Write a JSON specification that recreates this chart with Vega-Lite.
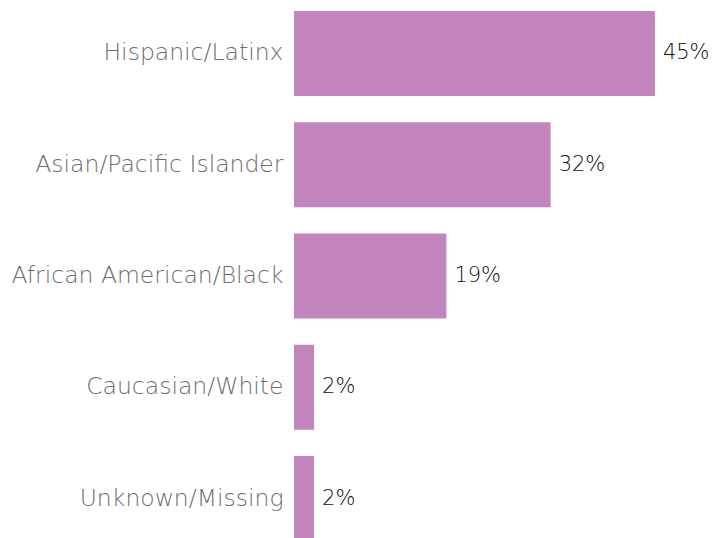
{
  "$schema": "https://vega.github.io/schema/vega-lite/v6.json",
  "autosize": "none",
  "padding": {"left": 294, "top": 11, "right": 20, "bottom": 0},
  "width": 401,
  "height": 530,
  "background": "white",
  "data": {
    "values": [
      {"group": "Hispanic/Latinx", "pct": 45, "label": "45%"},
      {"group": "Asian/Pacific Islander", "pct": 32, "label": "32%"},
      {"group": "African American/Black", "pct": 19, "label": "19%"},
      {"group": "Caucasian/White", "pct": 2.5, "label": "2%"},
      {"group": "Unknown/Missing", "pct": 2.5, "label": "2%"}
    ]
  },
  "encoding": {
    "y": {
      "field": "group", "type": "nominal", "sort": null,
      "scale": {"paddingInner": 0.236, "paddingOuter": 0},
      "axis": {"title": null, "ticks": false, "domain": false, "labelPadding": 11, "labelFont": "DejaVu Sans", "labelFontWeight": 200, "labelFontSize": 23.5, "labelColor": "#6e6e6e", "labelLimit": 400}
    },
    "x": {
      "field": "pct", "type": "quantitative",
      "scale": {"domain": [0, 50], "nice": false},
      "axis": null
    }
  },
  "layer": [
    {"mark": {"type": "bar", "color": "#C285BE"}},
    {"mark": {"type": "text", "align": "left", "dx": 8, "font": "DejaVu Sans", "fontWeight": 200, "fontSize": 21, "color": "#111111"},
     "encoding": {"text": {"field": "label"}}}
  ],
  "config": {"view": {"stroke": null}}
}
